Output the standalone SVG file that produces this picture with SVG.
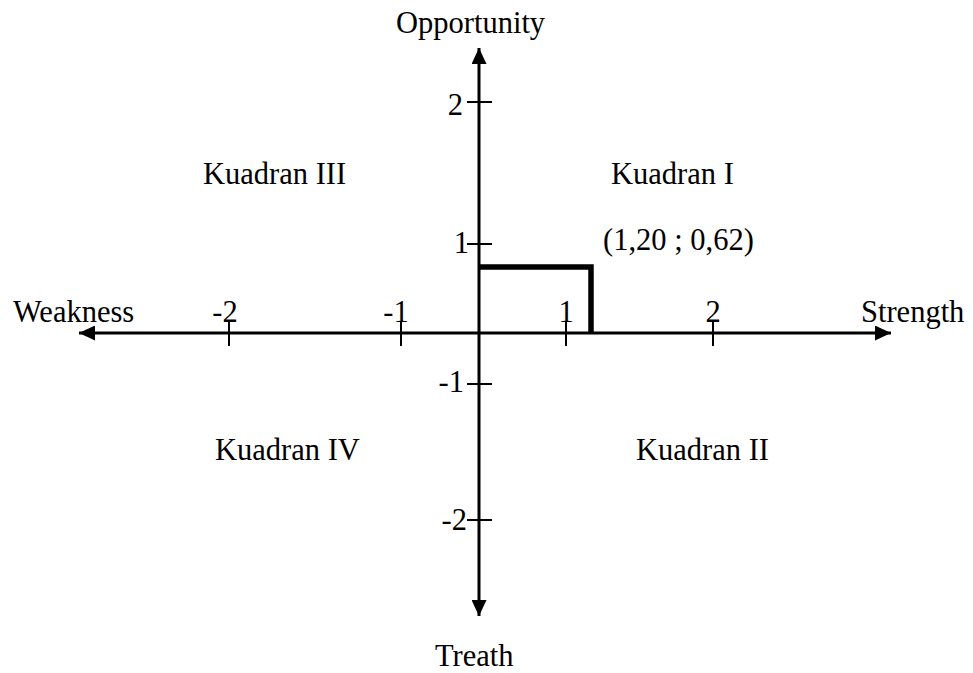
<svg xmlns="http://www.w3.org/2000/svg" width="973" height="673" viewBox="0 0 973 673">
<style>
text{font-family:"Liberation Serif","Times New Roman",serif;font-size:30.5px;fill:#000}
.ax{stroke:#000;stroke-width:3;fill:none}
.tk{stroke:#000;stroke-width:2;fill:none}
.pt{stroke:#000;stroke-width:5.5;fill:none}
</style>
<defs>
<marker id="ah" markerWidth="16" markerHeight="15" refX="16" refY="7.5" orient="auto" markerUnits="userSpaceOnUse">
<path d="M0,0 L16,7.5 L0,15 Z" fill="#000"/>
</marker>
</defs>
<rect width="973" height="673" fill="#fff"/>
<g id="connectors">
<line class="ax" x1="479" y1="333" x2="891" y2="333" marker-end="url(#ah)"/>
<line class="ax" x1="479" y1="333" x2="79" y2="333" marker-end="url(#ah)"/>
<line class="ax" x1="479" y1="333" x2="479" y2="48" marker-end="url(#ah)"/>
<line class="ax" x1="479" y1="333" x2="479" y2="616" marker-end="url(#ah)"/>
</g>
<g id="ticks">
<line class="tk" x1="229" y1="322" x2="229" y2="346"/>
<line class="tk" x1="401" y1="322" x2="401" y2="346"/>
<line class="tk" x1="566" y1="322" x2="566" y2="346"/>
<line class="tk" x1="713" y1="322" x2="713" y2="346"/>
<line class="tk" x1="467" y1="102" x2="492" y2="102"/>
<line class="tk" x1="467" y1="244" x2="492" y2="244"/>
<line class="tk" x1="467" y1="384" x2="492" y2="384"/>
<line class="tk" x1="467" y1="520" x2="492" y2="520"/>
</g>
<g id="point">
<polyline class="pt" points="479,267 591,267 591,333"/>
</g>
<g id="labels">
<text x="396" y="33">Opportunity</text>
<text x="435" y="666">Treath</text>
<text x="13" y="322">Weakness</text>
<text x="861" y="322">Strength</text>
<text x="225" y="322" text-anchor="middle">-2</text>
<text x="396" y="322" text-anchor="middle">-1</text>
<text x="566" y="322" text-anchor="middle">1</text>
<text x="713" y="322" text-anchor="middle">2</text>
<text x="463" y="115" text-anchor="end">2</text>
<text x="469" y="253" text-anchor="end">1</text>
<text x="464" y="392" text-anchor="end">-1</text>
<text x="467" y="530" text-anchor="end">-2</text>
</g>
<g id="q3"><text x="203" y="184">Kuadran III</text></g>
<g id="q1"><text x="611" y="184">Kuadran I</text></g>
<g id="coord"><text x="603" y="250">(1,20 ; 0,62)</text></g>
<g id="q4"><text x="215" y="460">Kuadran IV</text></g>
<g id="q2"><text x="636" y="460">Kuadran II</text></g>
</svg>
